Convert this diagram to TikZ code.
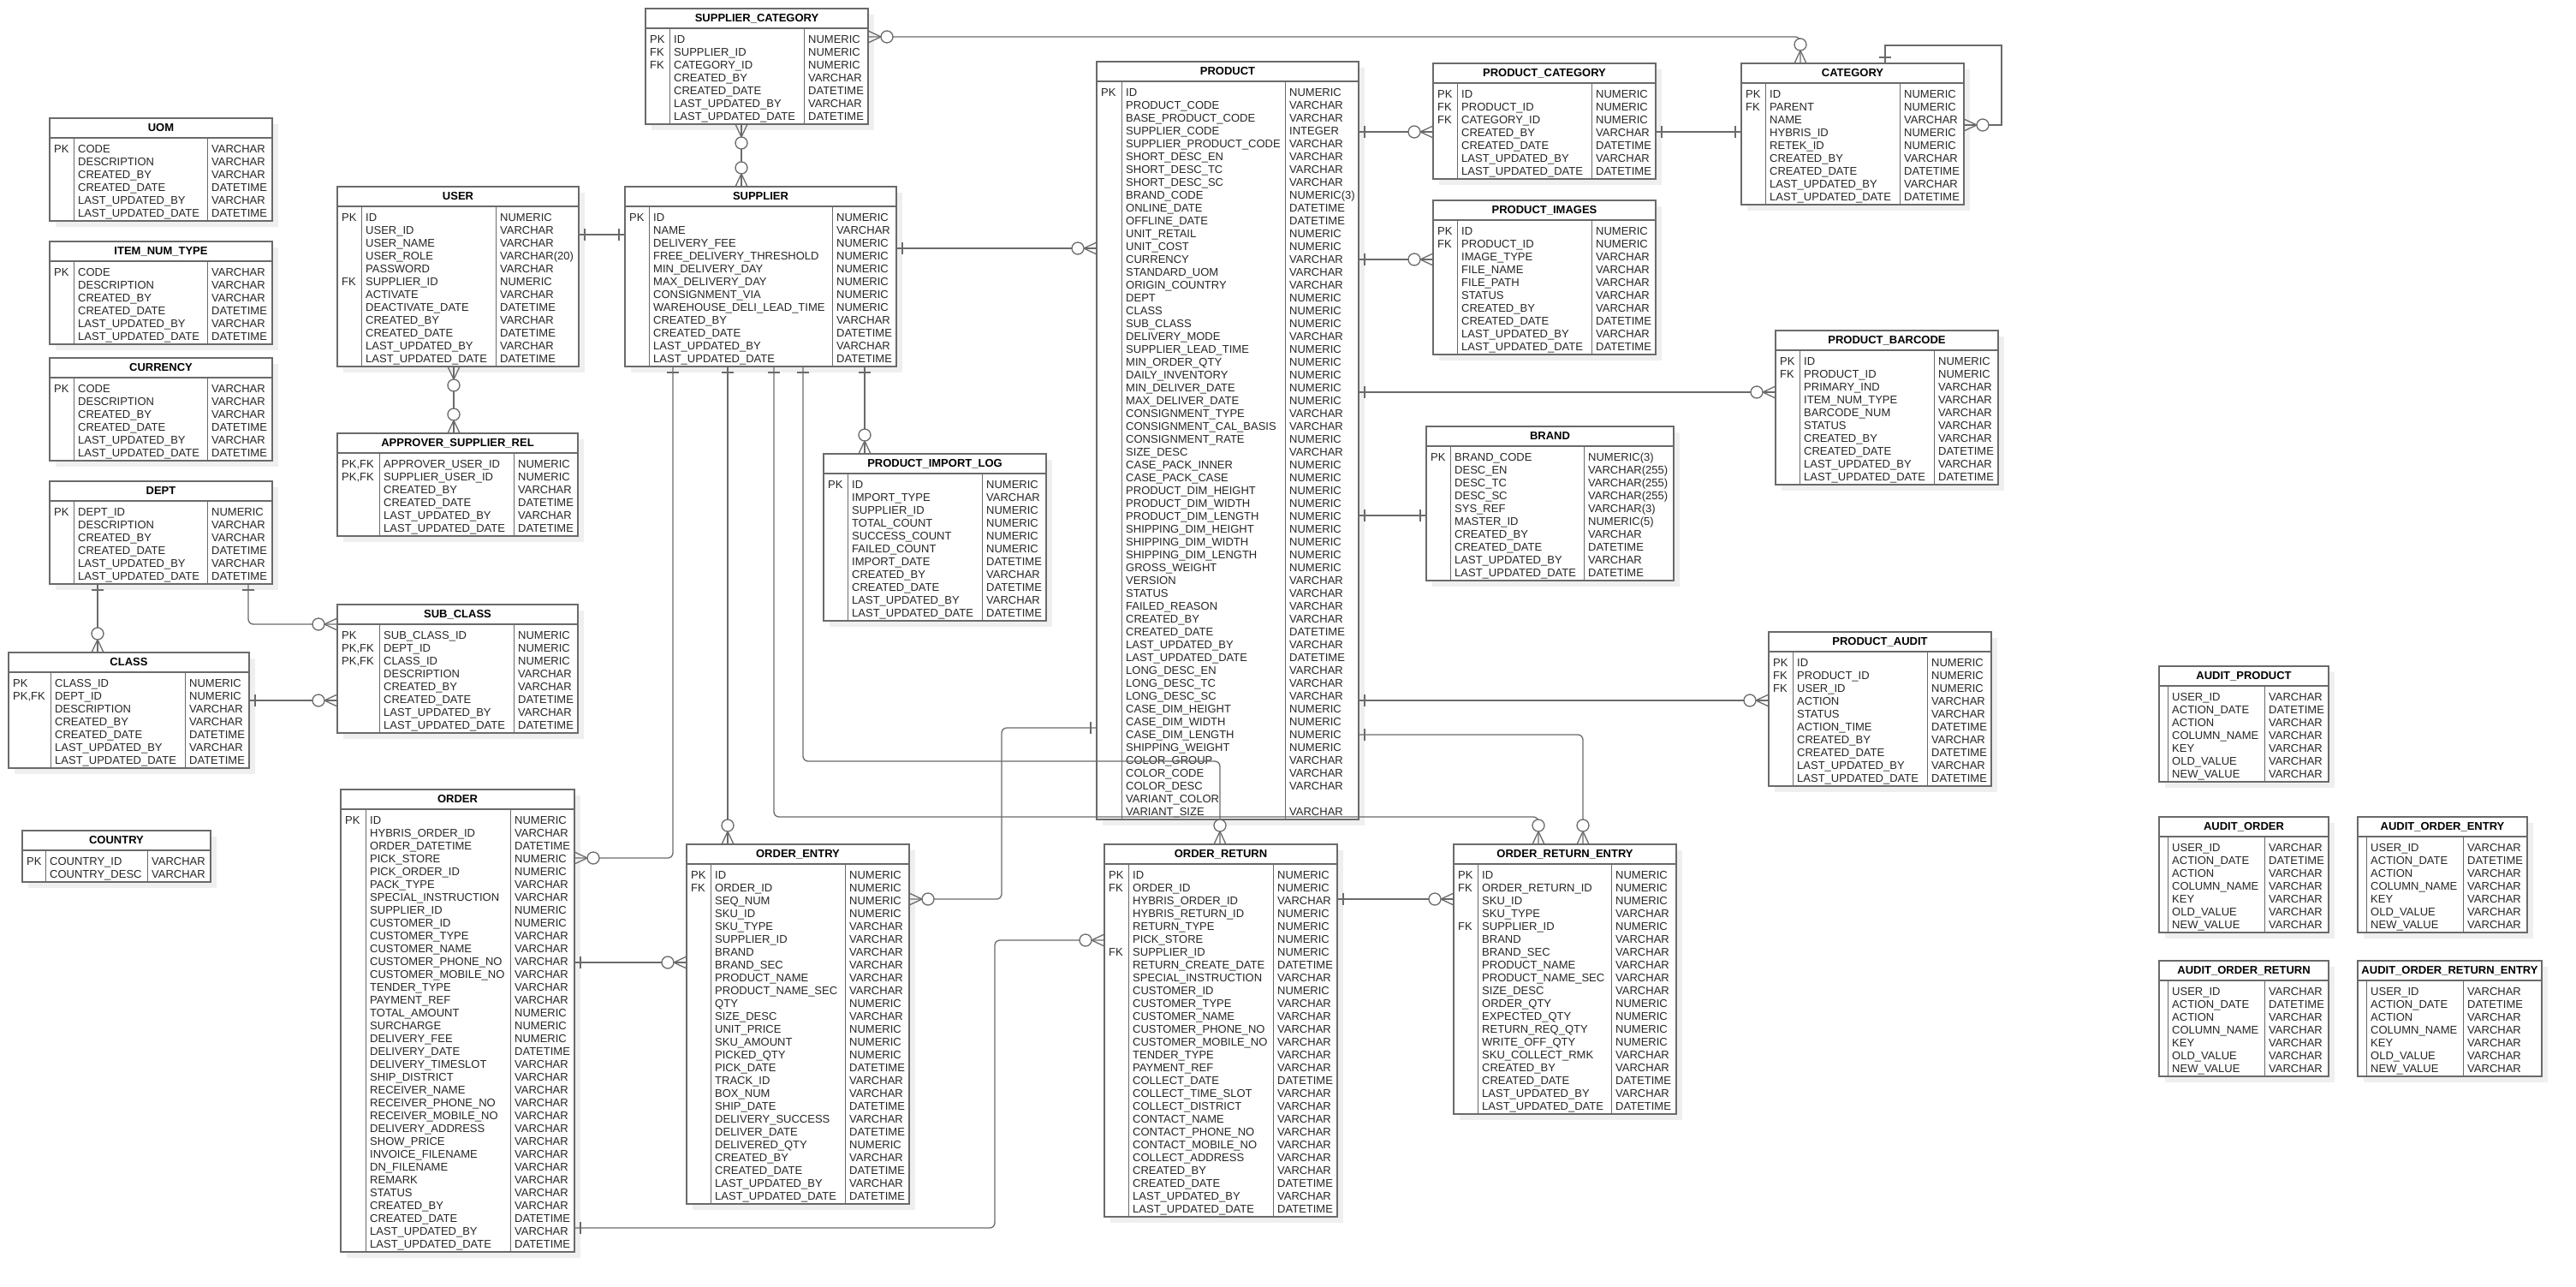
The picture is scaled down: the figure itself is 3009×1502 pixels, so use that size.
\documentclass[tikz,border=0pt]{standalone}
\usepackage{fontspec}
\setmainfont{Liberation Sans}
\usepackage{tikz}
\usetikzlibrary{calc}
\definecolor{linegray}{HTML}{6A6A6A}
\definecolor{shadowgray}{HTML}{EFEFEF}
\definecolor{inkgray}{HTML}{262626}

% one entity table: name, title, left, top, key column, type column, right, rows, fields
\newcommand{\ertable}[9]{%
  \pgfmathsetmacro{\erbot}{#4+30+15*#8}
  \pgfmathsetmacro{\erwd}{#7-#3}
  \pgfmathsetmacro{\erht}{\erbot-#4}
  \fill[shadowgray] (#3+7,#4+7) rectangle (#7+7,\erbot+7);
  \node[tablebox, minimum width=\erwd pt, minimum height=\erht pt] (#1) at (#3,#4) {};
  \draw[tableline] (#3,#4+23) -- (#7,#4+23);
  \draw[colline] (#5,#4+23) -- (#5,\erbot) (#6,#4+23) -- (#6,\erbot);
  \node[titletext] (#1-title) at ({(#3+#7)/2},#4+15) {#2};
  \foreach \erk/\erf/\ert [count=\eri] in {#9} {
    \pgfmathsetmacro{\ery}{#4+40+15*(\eri-1)}
    \node[celltext] (#1-k\eri) at (#3+5,\ery) {\erk};
    \node[celltext] (#1-f\eri) at (#5+5,\ery) {\erf};
    \node[celltext] (#1-t\eri) at (#6+5,\ery) {\ert};
  }
}

\begin{document}
\begin{tikzpicture}[x=1pt, y=-1pt,
    tablebox/.style={rectangle, anchor=north west, draw=linegray, fill=white,
                     line width=1.6pt, inner sep=0pt, outer sep=0pt},
    tableline/.style={draw=linegray, line width=1.6pt},
    colline/.style={draw=linegray, line width=1pt},
    titletext/.style={anchor=base, inner sep=0pt, text=black,
                      font=\fontsize{13pt}{15pt}\selectfont\bfseries},
    celltext/.style={anchor=base west, inner sep=0pt, text=inkgray,
                     font=\fontsize{13pt}{15pt}\selectfont},
    conn/.style={draw=linegray, line width=1.3pt},
    onemark/.pic={\draw[conn] (7,-7) -- (7,7);},
    manymark/.pic={\draw[conn] (0,-7) -- (15,0) -- (0,7);
                   \draw[conn, fill=white] (22,0) circle[radius=7pt];}
  ]
    \useasboundingbox (0,0) rectangle (3009,1502);
    \fill[white] (0,0) rectangle (3009,1502);

    % Lookup tables
    \ertable{uom}{UOM}{58}{138}{86}{242}{318}{6}{PK/CODE/VARCHAR, /DESCRIPTION/VARCHAR,
      /CREATED\_BY/VARCHAR, /CREATED\_DATE/DATETIME, /LAST\_UPDATED\_BY/VARCHAR,
      /LAST\_UPDATED\_DATE/DATETIME}
    \ertable{itemnum}{ITEM\_NUM\_TYPE}{58}{282}{86}{242}{318}{6}{PK/CODE/VARCHAR,
      /DESCRIPTION/VARCHAR, /CREATED\_BY/VARCHAR, /CREATED\_DATE/DATETIME,
      /LAST\_UPDATED\_BY/VARCHAR, /LAST\_UPDATED\_DATE/DATETIME}
    \ertable{currency}{CURRENCY}{58}{418}{86}{242}{318}{6}{PK/CODE/VARCHAR,
      /DESCRIPTION/VARCHAR, /CREATED\_BY/VARCHAR, /CREATED\_DATE/DATETIME,
      /LAST\_UPDATED\_BY/VARCHAR, /LAST\_UPDATED\_DATE/DATETIME}
    \ertable{dept}{DEPT}{58}{562}{86}{242}{318}{6}{PK/DEPT\_ID/NUMERIC,
      /DESCRIPTION/VARCHAR, /CREATED\_BY/VARCHAR, /CREATED\_DATE/DATETIME,
      /LAST\_UPDATED\_BY/VARCHAR, /LAST\_UPDATED\_DATE/DATETIME}
    \ertable{class}{CLASS}{10}{762}{59}{216}{291}{7}{PK/CLASS\_ID/NUMERIC,
      {PK,FK}/DEPT\_ID/NUMERIC, /DESCRIPTION/VARCHAR, /CREATED\_BY/VARCHAR,
      /CREATED\_DATE/DATETIME, /LAST\_UPDATED\_BY/VARCHAR, /LAST\_UPDATED\_DATE/DATETIME}
    \ertable{country}{COUNTRY}{26}{970}{53}{172}{246}{2}{PK/COUNTRY\_ID/VARCHAR,
      /COUNTRY\_DESC/VARCHAR}

    % Users and suppliers
    \ertable{user}{USER}{394}{218}{422}{579}{676}{12}{PK/ID/NUMERIC, /USER\_ID/VARCHAR,
      /USER\_NAME/VARCHAR, /USER\_ROLE/VARCHAR(20), /PASSWORD/VARCHAR,
      FK/SUPPLIER\_ID/NUMERIC, /ACTIVATE/VARCHAR, /DEACTIVATE\_DATE/DATETIME,
      /CREATED\_BY/VARCHAR, /CREATED\_DATE/DATETIME, /LAST\_UPDATED\_BY/VARCHAR,
      /LAST\_UPDATED\_DATE/DATETIME}
    \ertable{approver}{APPROVER\_SUPPLIER\_REL}{394}{506}{443}{600}{675}{6}{%
      {PK,FK}/APPROVER\_USER\_ID/NUMERIC, {PK,FK}/SUPPLIER\_USER\_ID/NUMERIC,
      /CREATED\_BY/VARCHAR, /CREATED\_DATE/DATETIME, /LAST\_UPDATED\_BY/VARCHAR,
      /LAST\_UPDATED\_DATE/DATETIME}
    \ertable{subclass}{SUB\_CLASS}{394}{706}{443}{600}{675}{8}{PK/SUB\_CLASS\_ID/NUMERIC,
      {PK,FK}/DEPT\_ID/NUMERIC, {PK,FK}/CLASS\_ID/NUMERIC, /DESCRIPTION/VARCHAR,
      /CREATED\_BY/VARCHAR, /CREATED\_DATE/DATETIME, /LAST\_UPDATED\_BY/VARCHAR,
      /LAST\_UPDATED\_DATE/DATETIME}
    \ertable{suppcat}{SUPPLIER\_CATEGORY}{754}{10}{782}{939}{1014}{7}{PK/ID/NUMERIC,
      FK/SUPPLIER\_ID/NUMERIC, FK/CATEGORY\_ID/NUMERIC, /CREATED\_BY/VARCHAR,
      /CREATED\_DATE/DATETIME, /LAST\_UPDATED\_BY/VARCHAR, /LAST\_UPDATED\_DATE/DATETIME}
    \ertable{supplier}{SUPPLIER}{730}{218}{758}{972}{1047}{12}{PK/ID/NUMERIC,
      /NAME/VARCHAR, /DELIVERY\_FEE/NUMERIC, /FREE\_DELIVERY\_THRESHOLD/NUMERIC,
      /MIN\_DELIVERY\_DAY/NUMERIC, /MAX\_DELIVERY\_DAY/NUMERIC, /CONSIGNMENT\_VIA/NUMERIC,
      /WAREHOUSE\_DELI\_LEAD\_TIME/NUMERIC, /CREATED\_BY/VARCHAR, /CREATED\_DATE/DATETIME,
      /LAST\_UPDATED\_BY/VARCHAR, /LAST\_UPDATED\_DATE/DATETIME}
    \ertable{importlog}{PRODUCT\_IMPORT\_LOG}{962}{530}{990}{1147}{1222}{11}{PK/ID/NUMERIC,
      /IMPORT\_TYPE/VARCHAR, /SUPPLIER\_ID/NUMERIC, /TOTAL\_COUNT/NUMERIC,
      /SUCCESS\_COUNT/NUMERIC, /FAILED\_COUNT/NUMERIC, /IMPORT\_DATE/DATETIME,
      /CREATED\_BY/VARCHAR, /CREATED\_DATE/DATETIME, /LAST\_UPDATED\_BY/VARCHAR,
      /LAST\_UPDATED\_DATE/DATETIME}

    % Products
    \ertable{product}{PRODUCT}{1281}{72}{1310}{1501}{1587}{57}{PK/ID/NUMERIC,
      /PRODUCT\_CODE/VARCHAR, /BASE\_PRODUCT\_CODE/VARCHAR, /SUPPLIER\_CODE/INTEGER,
      /SUPPLIER\_PRODUCT\_CODE/VARCHAR, /SHORT\_DESC\_EN/VARCHAR, /SHORT\_DESC\_TC/VARCHAR,
      /SHORT\_DESC\_SC/VARCHAR, /BRAND\_CODE/NUMERIC(3), /ONLINE\_DATE/DATETIME,
      /OFFLINE\_DATE/DATETIME, /UNIT\_RETAIL/NUMERIC, /UNIT\_COST/NUMERIC,
      /CURRENCY/VARCHAR, /STANDARD\_UOM/VARCHAR, /ORIGIN\_COUNTRY/VARCHAR, /DEPT/NUMERIC,
      /CLASS/NUMERIC, /SUB\_CLASS/NUMERIC, /DELIVERY\_MODE/VARCHAR,
      /SUPPLIER\_LEAD\_TIME/NUMERIC, /MIN\_ORDER\_QTY/NUMERIC, /DAILY\_INVENTORY/NUMERIC,
      /MIN\_DELIVER\_DATE/NUMERIC, /MAX\_DELIVER\_DATE/NUMERIC, /CONSIGNMENT\_TYPE/VARCHAR,
      /CONSIGNMENT\_CAL\_BASIS/VARCHAR, /CONSIGNMENT\_RATE/NUMERIC, /SIZE\_DESC/VARCHAR,
      /CASE\_PACK\_INNER/NUMERIC, /CASE\_PACK\_CASE/NUMERIC, /PRODUCT\_DIM\_HEIGHT/NUMERIC,
      /PRODUCT\_DIM\_WIDTH/NUMERIC, /PRODUCT\_DIM\_LENGTH/NUMERIC,
      /SHIPPING\_DIM\_HEIGHT/NUMERIC, /SHIPPING\_DIM\_WIDTH/NUMERIC,
      /SHIPPING\_DIM\_LENGTH/NUMERIC, /GROSS\_WEIGHT/NUMERIC, /VERSION/VARCHAR,
      /STATUS/VARCHAR, /FAILED\_REASON/VARCHAR, /CREATED\_BY/VARCHAR,
      /CREATED\_DATE/DATETIME, /LAST\_UPDATED\_BY/VARCHAR, /LAST\_UPDATED\_DATE/DATETIME,
      /LONG\_DESC\_EN/VARCHAR, /LONG\_DESC\_TC/VARCHAR, /LONG\_DESC\_SC/VARCHAR,
      /CASE\_DIM\_HEIGHT/NUMERIC, /CASE\_DIM\_WIDTH/NUMERIC, /CASE\_DIM\_LENGTH/NUMERIC,
      /SHIPPING\_WEIGHT/NUMERIC, /COLOR\_GROUP/VARCHAR, /COLOR\_CODE/VARCHAR,
      /COLOR\_DESC/VARCHAR, /VARIANT\_COLOR/, /VARIANT\_SIZE/VARCHAR}
    \ertable{prodcat}{PRODUCT\_CATEGORY}{1674}{74}{1702}{1859}{1934}{7}{PK/ID/NUMERIC,
      FK/PRODUCT\_ID/NUMERIC, FK/CATEGORY\_ID/NUMERIC, /CREATED\_BY/VARCHAR,
      /CREATED\_DATE/DATETIME, /LAST\_UPDATED\_BY/VARCHAR, /LAST\_UPDATED\_DATE/DATETIME}
    \ertable{prodimg}{PRODUCT\_IMAGES}{1674}{234}{1702}{1859}{1934}{10}{PK/ID/NUMERIC,
      FK/PRODUCT\_ID/NUMERIC, /IMAGE\_TYPE/VARCHAR, /FILE\_NAME/VARCHAR,
      /FILE\_PATH/VARCHAR, /STATUS/VARCHAR, /CREATED\_BY/VARCHAR, /CREATED\_DATE/DATETIME,
      /LAST\_UPDATED\_BY/VARCHAR, /LAST\_UPDATED\_DATE/DATETIME}
    \ertable{category}{CATEGORY}{2034}{74}{2062}{2219}{2294}{9}{PK/ID/NUMERIC,
      FK/PARENT/NUMERIC, /NAME/VARCHAR, /HYBRIS\_ID/NUMERIC, /RETEK\_ID/NUMERIC,
      /CREATED\_BY/VARCHAR, /CREATED\_DATE/DATETIME, /LAST\_UPDATED\_BY/VARCHAR,
      /LAST\_UPDATED\_DATE/DATETIME}
    \ertable{barcode}{PRODUCT\_BARCODE}{2074}{386}{2102}{2259}{2334}{10}{PK/ID/NUMERIC,
      FK/PRODUCT\_ID/NUMERIC, /PRIMARY\_IND/VARCHAR, /ITEM\_NUM\_TYPE/VARCHAR,
      /BARCODE\_NUM/VARCHAR, /STATUS/VARCHAR, /CREATED\_BY/VARCHAR,
      /CREATED\_DATE/DATETIME, /LAST\_UPDATED\_BY/VARCHAR, /LAST\_UPDATED\_DATE/DATETIME}
    \ertable{brand}{BRAND}{1666}{498}{1694}{1850}{1955}{10}{PK/BRAND\_CODE/NUMERIC(3),
      /DESC\_EN/VARCHAR(255), /DESC\_TC/VARCHAR(255), /DESC\_SC/VARCHAR(255),
      /SYS\_REF/VARCHAR(3), /MASTER\_ID/NUMERIC(5), /CREATED\_BY/VARCHAR,
      /CREATED\_DATE/DATETIME, /LAST\_UPDATED\_BY/VARCHAR, /LAST\_UPDATED\_DATE/DATETIME}
    \ertable{prodaudit}{PRODUCT\_AUDIT}{2066}{738}{2094}{2251}{2326}{10}{PK/ID/NUMERIC,
      FK/PRODUCT\_ID/NUMERIC, FK/USER\_ID/NUMERIC, /ACTION/VARCHAR, /STATUS/VARCHAR,
      /ACTION\_TIME/DATETIME, /CREATED\_BY/VARCHAR, /CREATED\_DATE/DATETIME,
      /LAST\_UPDATED\_BY/VARCHAR, /LAST\_UPDATED\_DATE/DATETIME}

    % Orders
    \ertable{order}{ORDER}{398}{922}{427}{596}{671}{34}{PK/ID/NUMERIC,
      /HYBRIS\_ORDER\_ID/VARCHAR, /ORDER\_DATETIME/DATETIME, /PICK\_STORE/NUMERIC,
      /PICK\_ORDER\_ID/NUMERIC, /PACK\_TYPE/VARCHAR, /SPECIAL\_INSTRUCTION/VARCHAR,
      /SUPPLIER\_ID/NUMERIC, /CUSTOMER\_ID/NUMERIC, /CUSTOMER\_TYPE/VARCHAR,
      /CUSTOMER\_NAME/VARCHAR, /CUSTOMER\_PHONE\_NO/VARCHAR, /CUSTOMER\_MOBILE\_NO/VARCHAR,
      /TENDER\_TYPE/VARCHAR, /PAYMENT\_REF/VARCHAR, /TOTAL\_AMOUNT/NUMERIC,
      /SURCHARGE/NUMERIC, /DELIVERY\_FEE/NUMERIC, /DELIVERY\_DATE/DATETIME,
      /DELIVERY\_TIMESLOT/VARCHAR, /SHIP\_DISTRICT/VARCHAR, /RECEIVER\_NAME/VARCHAR,
      /RECEIVER\_PHONE\_NO/VARCHAR, /RECEIVER\_MOBILE\_NO/VARCHAR,
      /DELIVERY\_ADDRESS/VARCHAR, /SHOW\_PRICE/VARCHAR, /INVOICE\_FILENAME/VARCHAR,
      /DN\_FILENAME/VARCHAR, /REMARK/VARCHAR, /STATUS/VARCHAR, /CREATED\_BY/VARCHAR,
      /CREATED\_DATE/DATETIME, /LAST\_UPDATED\_BY/VARCHAR, /LAST\_UPDATED\_DATE/DATETIME}
    \ertable{orderentry}{ORDER\_ENTRY}{802}{986}{830}{987}{1062}{26}{PK/ID/NUMERIC,
      FK/ORDER\_ID/NUMERIC, /SEQ\_NUM/NUMERIC, /SKU\_ID/NUMERIC, /SKU\_TYPE/VARCHAR,
      /SUPPLIER\_ID/VARCHAR, /BRAND/VARCHAR, /BRAND\_SEC/VARCHAR, /PRODUCT\_NAME/VARCHAR,
      /PRODUCT\_NAME\_SEC/VARCHAR, /QTY/NUMERIC, /SIZE\_DESC/VARCHAR,
      /UNIT\_PRICE/NUMERIC, /SKU\_AMOUNT/NUMERIC, /PICKED\_QTY/NUMERIC,
      /PICK\_DATE/DATETIME, /TRACK\_ID/VARCHAR, /BOX\_NUM/VARCHAR, /SHIP\_DATE/DATETIME,
      /DELIVERY\_SUCCESS/VARCHAR, /DELIVER\_DATE/DATETIME, /DELIVERED\_QTY/NUMERIC,
      /CREATED\_BY/VARCHAR, /CREATED\_DATE/DATETIME, /LAST\_UPDATED\_BY/VARCHAR,
      /LAST\_UPDATED\_DATE/DATETIME}
    \ertable{orderreturn}{ORDER\_RETURN}{1290}{986}{1318}{1487}{1562}{27}{PK/ID/NUMERIC,
      FK/ORDER\_ID/NUMERIC, /HYBRIS\_ORDER\_ID/VARCHAR, /HYBRIS\_RETURN\_ID/NUMERIC,
      /RETURN\_TYPE/NUMERIC, /PICK\_STORE/NUMERIC, FK/SUPPLIER\_ID/NUMERIC,
      /RETURN\_CREATE\_DATE/DATETIME, /SPECIAL\_INSTRUCTION/VARCHAR,
      /CUSTOMER\_ID/NUMERIC, /CUSTOMER\_TYPE/VARCHAR, /CUSTOMER\_NAME/VARCHAR,
      /CUSTOMER\_PHONE\_NO/VARCHAR, /CUSTOMER\_MOBILE\_NO/VARCHAR, /TENDER\_TYPE/VARCHAR,
      /PAYMENT\_REF/VARCHAR, /COLLECT\_DATE/DATETIME, /COLLECT\_TIME\_SLOT/VARCHAR,
      /COLLECT\_DISTRICT/VARCHAR, /CONTACT\_NAME/VARCHAR, /CONTACT\_PHONE\_NO/VARCHAR,
      /CONTACT\_MOBILE\_NO/VARCHAR, /COLLECT\_ADDRESS/VARCHAR, /CREATED\_BY/VARCHAR,
      /CREATED\_DATE/DATETIME, /LAST\_UPDATED\_BY/VARCHAR, /LAST\_UPDATED\_DATE/DATETIME}
    \ertable{retentry}{ORDER\_RETURN\_ENTRY}{1698}{986}{1726}{1882}{1958}{19}{PK/ID/NUMERIC,
      FK/ORDER\_RETURN\_ID/NUMERIC, /SKU\_ID/NUMERIC, /SKU\_TYPE/VARCHAR,
      FK/SUPPLIER\_ID/NUMERIC, /BRAND/VARCHAR, /BRAND\_SEC/VARCHAR,
      /PRODUCT\_NAME/VARCHAR, /PRODUCT\_NAME\_SEC/VARCHAR, /SIZE\_DESC/VARCHAR,
      /ORDER\_QTY/NUMERIC, /EXPECTED\_QTY/NUMERIC, /RETURN\_REQ\_QTY/NUMERIC,
      /WRITE\_OFF\_QTY/NUMERIC, /SKU\_COLLECT\_RMK/VARCHAR, /CREATED\_BY/VARCHAR,
      /CREATED\_DATE/DATETIME, /LAST\_UPDATED\_BY/VARCHAR, /LAST\_UPDATED\_DATE/DATETIME}

    % Audit tables
    \ertable{auditprod}{AUDIT\_PRODUCT}{2522}{778}{2532}{2645}{2720}{7}{/USER\_ID/VARCHAR,
      /ACTION\_DATE/DATETIME, /ACTION/VARCHAR, /COLUMN\_NAME/VARCHAR, /KEY/VARCHAR,
      /OLD\_VALUE/VARCHAR, /NEW\_VALUE/VARCHAR}
    \ertable{auditorder}{AUDIT\_ORDER}{2522}{954}{2532}{2645}{2720}{7}{/USER\_ID/VARCHAR,
      /ACTION\_DATE/DATETIME, /ACTION/VARCHAR, /COLUMN\_NAME/VARCHAR, /KEY/VARCHAR,
      /OLD\_VALUE/VARCHAR, /NEW\_VALUE/VARCHAR}
    \ertable{auditentry}{AUDIT\_ORDER\_ENTRY}{2754}{954}{2764}{2877}{2952}{7}{/USER\_ID/VARCHAR,
      /ACTION\_DATE/DATETIME, /ACTION/VARCHAR, /COLUMN\_NAME/VARCHAR, /KEY/VARCHAR,
      /OLD\_VALUE/VARCHAR, /NEW\_VALUE/VARCHAR}
    \ertable{auditreturn}{AUDIT\_ORDER\_RETURN}{2522}{1122}{2532}{2645}{2720}{7}{/USER\_ID/VARCHAR,
      /ACTION\_DATE/DATETIME, /ACTION/VARCHAR, /COLUMN\_NAME/VARCHAR, /KEY/VARCHAR,
      /OLD\_VALUE/VARCHAR, /NEW\_VALUE/VARCHAR}
    \ertable{auditretentry}{AUDIT\_ORDER\_RETURN\_ENTRY}{2754}{1122}{2764}{2877}{2969}{7}{%
      /USER\_ID/VARCHAR, /ACTION\_DATE/DATETIME, /ACTION/VARCHAR, /COLUMN\_NAME/VARCHAR,
      /KEY/VARCHAR, /OLD\_VALUE/VARCHAR, /NEW\_VALUE/VARCHAR}

    % Relationships
    \draw[conn] (user.east |- 0,274) -- (supplier.west |- 0,274);
    \draw[conn] (user.south -| 530,0) -- (approver.north -| 530,0);
    \draw[conn] (suppcat.south -| 866,0) -- (supplier.north -| 866,0);
    \draw[conn, rounded corners=6pt] (suppcat.east |- 0,43) -- (2103,43)
      -- (category.north -| 2103,0);
    \draw[conn] (supplier.east |- 0,290) -- (product.west |- 0,290);
    \draw[conn] (product.east |- 0,154) -- (prodcat.west |- 0,154);
    \draw[conn] (prodcat.east |- 0,154) -- (category.west |- 0,154);
    \draw[conn] (product.east |- 0,303) -- (prodimg.west |- 0,303);
    \draw[conn] (product.east |- 0,458) -- (barcode.west |- 0,458);
    \draw[conn] (product.east |- 0,602) -- (brand.west |- 0,602);
    \draw[conn] (product.east |- 0,818) -- (prodaudit.west |- 0,818);
    \draw[conn, rounded corners=6pt] (product.east |- 0,858) -- (1849,858)
      -- (retentry.north -| 1849,0);
    \draw[conn, rounded corners=6pt] (supplier.south -| 904,0) -- (904,954)
      -- (1797,954) -- (retentry.north -| 1797,0);
    \draw[conn, rounded corners=6pt] (supplier.south -| 938,0) -- (938,889)
      -- (1425,889) -- (orderreturn.north -| 1425,0);
    \draw[conn] (supplier.south -| 850,0) -- (orderentry.north -| 850,0);
    \draw[conn, rounded corners=6pt] (supplier.south -| 786,0) -- (786,1002)
      -- (order.east |- 0,1002);
    \draw[conn] (supplier.south -| 1010,0) -- (importlog.north -| 1010,0);
    \draw[conn] (order.east |- 0,1124) -- (orderentry.west |- 0,1124);
    \draw[conn, rounded corners=6pt] (order.east |- 0,1434) -- (1162,1434)
      -- (1162,1098) -- (orderreturn.west |- 0,1098);
    \draw[conn, rounded corners=6pt] (product.west |- 0,850) -- (1170,850)
      -- (1170,1050) -- (orderentry.east |- 0,1050);
    \draw[conn] (orderreturn.east |- 0,1050) -- (retentry.west |- 0,1050);
    \draw[conn] (dept.south -| 114,0) -- (class.north -| 114,0);
    \draw[conn, rounded corners=6pt] (dept.south -| 290,0) -- (290,729)
      -- (subclass.west |- 0,729);
    \draw[conn] (class.east |- 0,818) -- (subclass.west |- 0,818);
    \draw[conn] (category.north -| 2202,0) -- (2202,53) -- (2338,53) -- (2338,146)
      -- (category.east |- 0,146);

    % Cardinality marks
    \pic at (user.east |- 0,274) {onemark};
    \pic[rotate=180] at (supplier.west |- 0,274) {onemark};
    \pic[rotate=-90] at (user.south -| 530,0) {manymark};
    \pic[rotate=90] at (approver.north -| 530,0) {manymark};
    \pic[rotate=-90] at (suppcat.south -| 866,0) {manymark};
    \pic[rotate=90] at (supplier.north -| 866,0) {manymark};
    \pic at (suppcat.east |- 0,43) {manymark};
    \pic[rotate=90] at (category.north -| 2103,0) {manymark};
    \pic at (supplier.east |- 0,290) {onemark};
    \pic[rotate=180] at (product.west |- 0,290) {manymark};
    \pic at (product.east |- 0,154) {onemark};
    \pic[rotate=180] at (prodcat.west |- 0,154) {manymark};
    \pic at (prodcat.east |- 0,154) {onemark};
    \pic[rotate=180] at (category.west |- 0,154) {onemark};
    \pic at (product.east |- 0,303) {onemark};
    \pic[rotate=180] at (prodimg.west |- 0,303) {manymark};
    \pic at (product.east |- 0,458) {onemark};
    \pic[rotate=180] at (barcode.west |- 0,458) {manymark};
    \pic at (product.east |- 0,602) {onemark};
    \pic[rotate=180] at (brand.west |- 0,602) {onemark};
    \pic at (product.east |- 0,818) {onemark};
    \pic[rotate=180] at (prodaudit.west |- 0,818) {manymark};
    \pic at (product.east |- 0,858) {onemark};
    \pic[rotate=90] at (retentry.north -| 1849,0) {manymark};
    \pic[rotate=-90] at (supplier.south -| 904,0) {onemark};
    \pic[rotate=90] at (retentry.north -| 1797,0) {manymark};
    \pic[rotate=-90] at (supplier.south -| 938,0) {onemark};
    \pic[rotate=90] at (orderreturn.north -| 1425,0) {manymark};
    \pic[rotate=-90] at (supplier.south -| 850,0) {onemark};
    \pic[rotate=90] at (orderentry.north -| 850,0) {manymark};
    \pic[rotate=-90] at (supplier.south -| 786,0) {onemark};
    \pic at (order.east |- 0,1002) {manymark};
    \pic[rotate=-90] at (supplier.south -| 1010,0) {onemark};
    \pic[rotate=90] at (importlog.north -| 1010,0) {manymark};
    \pic at (order.east |- 0,1124) {onemark};
    \pic[rotate=180] at (orderentry.west |- 0,1124) {manymark};
    \pic at (order.east |- 0,1434) {onemark};
    \pic[rotate=180] at (orderreturn.west |- 0,1098) {manymark};
    \pic[rotate=180] at (product.west |- 0,850) {onemark};
    \pic at (orderentry.east |- 0,1050) {manymark};
    \pic at (orderreturn.east |- 0,1050) {onemark};
    \pic[rotate=180] at (retentry.west |- 0,1050) {manymark};
    \pic[rotate=-90] at (dept.south -| 114,0) {onemark};
    \pic[rotate=90] at (class.north -| 114,0) {manymark};
    \pic[rotate=-90] at (dept.south -| 290,0) {onemark};
    \pic[rotate=180] at (subclass.west |- 0,729) {manymark};
    \pic at (class.east |- 0,818) {onemark};
    \pic[rotate=180] at (subclass.west |- 0,818) {manymark};
    \pic[rotate=90] at (category.north -| 2202,0) {onemark};
    \pic at (category.east |- 0,146) {manymark};
\end{tikzpicture}
\end{document}
